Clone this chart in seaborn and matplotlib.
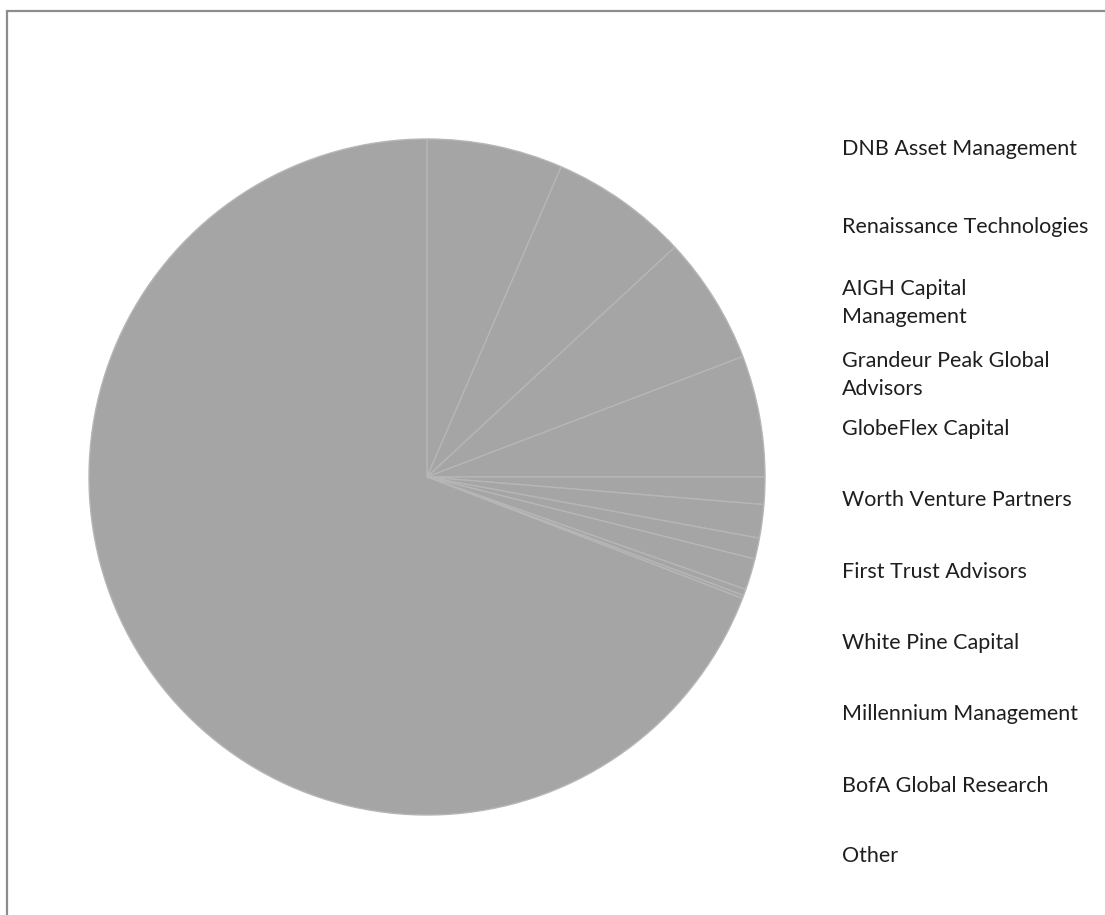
import matplotlib
matplotlib.use("Agg")
import matplotlib.pyplot as plt
from matplotlib.patches import Rectangle
import seaborn as sns

# ---- data ----
labels = [
    "DNB Asset Management",
    "Renaissance Technologies",
    "AIGH Capital\nManagement",
    "Grandeur Peak Global\nAdvisors",
    "GlobeFlex Capital",
    "Worth Venture Partners",
    "First Trust Advisors",
    "White Pine Capital",
    "Millennium Management",
    "BofA Global Research",
    "Other",
]
values = [6.5, 6.6, 6.1, 5.8, 1.3, 1.6, 1.0, 1.5, 0.3, 0.15, 69.15]

sns.set_theme(style="white")
plt.rcParams["font.family"] = ["Lato", "DejaVu Sans"]

W, H = 1105, 915
fig = plt.figure(figsize=(W / 100, H / 100), dpi=100)
fig.patch.set_facecolor("white")

cx, cy, r = 427, 477, 338
ax = fig.add_axes([(cx - r) / W, (H - cy - r) / H, 2 * r / W, 2 * r / H])
fill = "#a5a5a5"
wedges, _ = ax.pie(
    values,
    colors=[fill] * len(values),
    startangle=90,
    counterclock=False,
    wedgeprops=dict(edgecolor="#b6b6b6", linewidth=1.0),
)
ax.set_xlim(-1, 1)
ax.set_ylim(-1, 1)
ax.set_aspect("equal")
ax.axis("off")

# legend text (layout: first-line baselines in pixels from top)
legend_x = 842
legend_baselines = [155, 233, 295, 367, 435, 506, 578, 649, 720, 792, 862]
for lab, yb in zip(labels, legend_baselines):
    first, *rest = lab.split("\n")
    fig.text(legend_x / W, 1 - yb / H, first, fontsize=15.5,
             color="#1e1e1e", ha="left", va="baseline")
    for k, line in enumerate(rest, start=1):
        fig.text(legend_x / W, 1 - (yb + 28 * k) / H, line, fontsize=15.5,
                 color="#1e1e1e", ha="left", va="baseline")

# outer chart border (only top and left visible)
fig.patches.append(
    Rectangle((7 / W, -0.2), 1.5, 1 - 11 / H + 0.2, fill=False,
              edgecolor="#8c8c8c", linewidth=1.6, transform=fig.transFigure)
)

fig.savefig("out.png", dpi=100, facecolor="white")
